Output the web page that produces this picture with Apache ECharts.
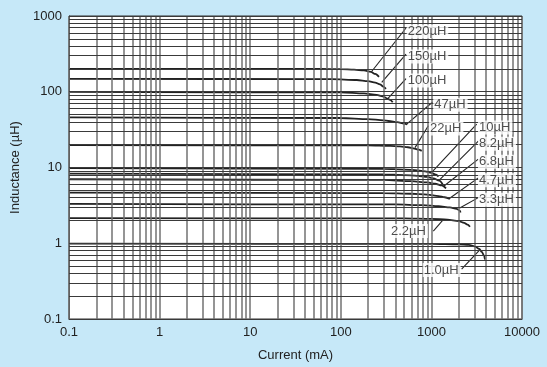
<!DOCTYPE html>
<html>
<head>
<meta charset="utf-8">
<script src="https://cdn.jsdelivr.net/npm/echarts@6/dist/echarts.min.js"></script>
<style>
html,body{margin:0;padding:0;background:#c6e8f8;}
#chart{width:547px;height:367px;}
</style>
</head>
<body>
<div id="chart"></div>
<script>
// ---- data ----
const xTickLabels = ['0.1', '1', '10', '100', '1000', '10000'];
const yTickLabels = ['0.1', '1', '10', '100', '1000'];

const curveNames = ['220µH','150µH','100µH','47µH','22µH','10µH','8.2µH','6.8µH','4.7µH','3.3µH','2.2µH','1.0µH'];
// [current mA, inductance µH]
const c220 = [[0.1,201],[60,200],[100,199],[140,196],[180,191],[215,183],[240,172],[264,157]];
const c150 = [[0.1,148],[80,147],[150,143],[200,138],[240,132],[271,125],[295,117],[315,109]];
const c100 = [[0.1,99.5],[100,98],[180,95],[249,91],[290,87],[321,82],[350,78],[374,72.6]];
const c47  = [[0.1,46],[100,45],[200,43.5],[295,42],[420,39.6],[500,38],[542,37]];
const c22  = [[0.1,19.8],[200,19.6],[350,19.3],[450,19],[550,18.5],[650,17.8],[720,17.2],[782,16.6]];
const c10  = [[0.1,9.8],[300,9.6],[500,9.4],[700,9.15],[850,8.9],[1000,8.5],[1100,8.1],[1200,7.6]];
const c8_2 = [[0.1,8.3],[300,8.1],[500,7.95],[700,7.75],[900,7.5],[1050,7.2],[1222,6.7],[1330,6.0]];
const c6_8 = [[0.1,7.0],[300,6.85],[600,6.6],[900,6.35],[1100,6.1],[1300,5.8],[1450,5.3]];
const c4_7 = [[0.1,4.65],[300,4.6],[600,4.5],[900,4.38],[1200,4.2],[1400,4.05],[1600,3.85]];
const c3_3 = [[0.1,3.3],[400,3.25],[800,3.18],[1200,3.08],[1600,2.97],[1900,2.85],[2050,2.7],[2100,2.55]];
const c2_2 = [[0.1,2.15],[500,2.13],[1000,2.1],[1500,2.05],[2000,1.96],[2300,1.86],[2500,1.76],[2667,1.65]];
const c1_0 = [[0.1,0.99],[1000,0.98],[2000,0.965],[2600,0.95],[3000,0.91],[3380,0.84],[3600,0.77],[3800,0.69],[3908,0.61]];
const curves = [c220,c150,c100,c47,c22,c10,c8_2,c6_8,c4_7,c3_3,c2_2,c1_0];

// label anchor (left edge, centre) in data units
const labelCurrent = [534,534,534,1049,942,3268,3268,3268,3268,3268,349,802];
const labelInduct  = [622,292,141,67.6,32.8,33.8,20.6,11.9,6.8,3.75,1.45,0.442];
// leader lines: start [I,L] -> end [I,L]
const leaderStart = [[525,694],[525,314],[525,149],[1033,73.3],[925,35.6],[3162,37.3],[3296,22.3],[3296,12.9],[3296,7.3],[3296,4.0],[1050,1.45],[2158,0.455]];
const leaderEnd   = [[219,185],[283,133],[334,82.4],[534,37.3],[659,18.3],[1007,8.6],[1222,6.8],[1377,5.7],[1578,3.9],[2033,2.9],[1352,2.05],[3436,0.824]];

// grid line values (1..9 x each decade)
function decadeLines(lo, hi) {
  const out = [];
  for (let e = lo; e < hi; e++) for (let m = 1; m <= 9; m++) out.push(+(m * Math.pow(10, e)).toPrecision(3));
  out.push(Math.pow(10, hi));
  return out;
}
const xGrid = decadeLines(-1, 4);
const yGrid = decadeLines(-1, 3);

const chart = echarts.init(document.getElementById('chart'), null, {renderer: 'canvas'});
const font = 'Liberation Sans, Arial, Helvetica, sans-serif';

const series = [];
series.push({
  type: 'line', data: [[0.1, 0.1]], symbol: 'none', lineStyle: {opacity: 0}, silent: true, z: 1,
  markLine: {
    silent: true, symbol: ['none','none'], label: {show: false}, animation: false,
    data: xGrid.map(v => ({xAxis: v, lineStyle: {color: '#727272', width: 1.5, type: 'solid'}}))
      .concat(yGrid.map(v => ({yAxis: v, lineStyle: {color: '#3a3a3a', width: 1.2, type: 'solid'}})))
  }
});
curves.forEach((c, i) => {
  series.push({
    type: 'line', name: curveNames[i], data: c, symbol: 'none', smooth: 0.3, smoothMonotone: 'x',
    lineStyle: {color: '#222', width: 1.8}, z: 3, silent: true
  });
});
leaderStart.forEach((s, i) => {
  series.push({
    type: 'line', data: [s, leaderEnd[i]], symbol: 'none',
    lineStyle: {color: '#222', width: 1.1}, z: 4, silent: true
  });
});
series.push({
  type: 'scatter', symbolSize: 0, z: 10, silent: true,
  data: curveNames.map((n, i) => ({value: [labelCurrent[i], labelInduct[i]], name: n})),
  label: {
    show: true, position: 'right', distance: 0, formatter: p => p.name,
    backgroundColor: '#ffffff', padding: [1, 2, 0, 1], fontSize: 13, color: '#222', fontFamily: font
  }
});

chart.setOption({
  animation: false,
  backgroundColor: '#c6e8f8',
  grid: {left: 69, top: 16, right: 25, bottom: 41, show: true, backgroundColor: '#ffffff', borderColor: '#333', borderWidth: 1},
  xAxis: {
    type: 'log', logBase: 10, min: 0.1, max: 10000, interval: 1,
    name: 'Current (mA)', nameLocation: 'middle', nameGap: 30,
    nameTextStyle: {fontSize: 13, color: '#222', fontFamily: font},
    axisLine: {show: true, lineStyle: {color: '#333', width: 1}},
    axisTick: {show: false},
    splitLine: {show: false},
    axisLabel: {fontSize: 13, color: '#222', fontFamily: font, margin: 7,
      formatter: v => xTickLabels[Math.round(Math.log10(v)) + 1]}
  },
  yAxis: {
    type: 'log', logBase: 10, min: 0.1, max: 1000, interval: 1,
    name: 'Inductance (µH)', nameLocation: 'middle', nameGap: 39,
    nameTextStyle: {fontSize: 13, color: '#222', fontFamily: font},
    axisLine: {show: true, lineStyle: {color: '#333', width: 1}},
    axisTick: {show: false},
    splitLine: {show: false},
    axisLabel: {fontSize: 13, color: '#222', fontFamily: font, margin: 7,
      formatter: v => yTickLabels[Math.round(Math.log10(v)) + 1]}
  },
  series: series
});
</script>
</body>
</html>
